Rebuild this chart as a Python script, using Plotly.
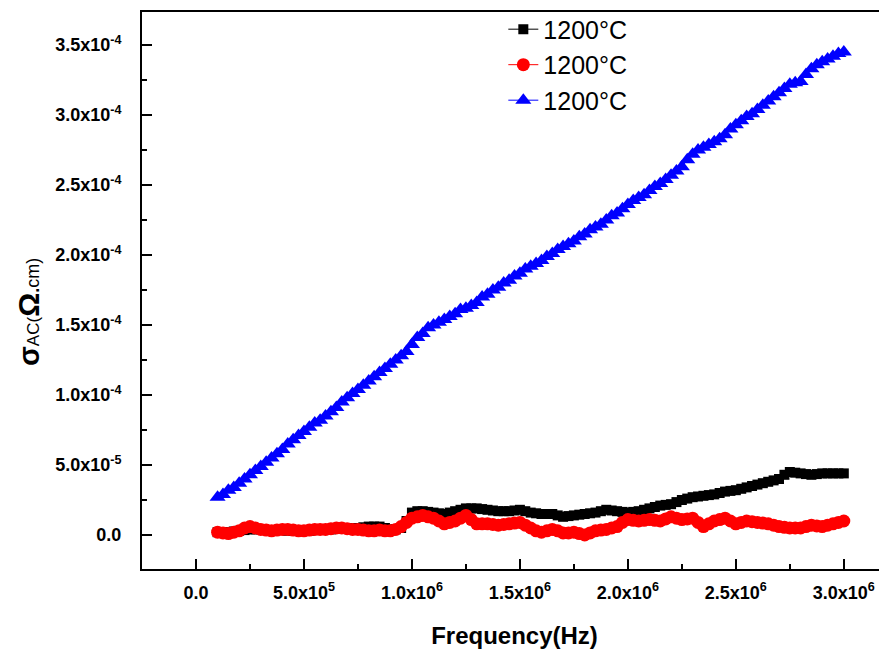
import plotly.graph_objects as go

# Frequency in units of 1e5 Hz (rows of 8 points)
freq_e5 = [1.0, 1.25, 1.5, 1.75, 2.0, 2.25, 2.5, 2.75,
           3.0, 3.25, 3.5, 3.75, 4.0, 4.25, 4.5, 4.75,
           5.0, 5.25, 5.5, 5.75, 6.0, 6.25, 6.5, 6.75,
           7.0, 7.25, 7.5, 7.75, 8.0, 8.25, 8.5, 8.75,
           9.0, 9.25, 9.5, 9.75, 10.0, 10.25, 10.5, 10.75,
           11.0, 11.25, 11.5, 11.75, 12.0, 12.25, 12.5, 12.75,
           13.0, 13.25, 13.5, 13.75, 14.0, 14.25, 14.5, 14.75,
           15.0, 15.25, 15.5, 15.75, 16.0, 16.25, 16.5, 16.75,
           17.0, 17.25, 17.5, 17.75, 18.0, 18.25, 18.5, 18.75,
           19.0, 19.25, 19.5, 19.75, 20.0, 20.25, 20.5, 20.75,
           21.0, 21.25, 21.5, 21.75, 22.0, 22.25, 22.5, 22.75,
           23.0, 23.25, 23.5, 23.75, 24.0, 24.25, 24.5, 24.75,
           25.0, 25.25, 25.5, 25.75, 26.0, 26.25, 26.5, 26.75,
           27.0, 27.25, 27.5, 27.75, 28.0, 28.25, 28.5, 28.75,
           29.0, 29.25, 29.5, 29.75, 30.0]

# black series, units of 1e-5
black_e5 = [0.2, 0.2, 0.2, 0.25, 0.3, 0.35, 0.4, 0.4,
            0.4, 0.35, 0.35, 0.35, 0.35, 0.3, 0.3, 0.3,
            0.3, 0.3, 0.35, 0.4, 0.4, 0.4, 0.45, 0.5,
            0.5, 0.5, 0.5, 0.55, 0.6, 0.6, 0.6, 0.5,
            0.4, 0.4, 0.5, 1.0, 1.6, 1.7, 1.7, 1.65,
            1.6, 1.55, 1.5, 1.6, 1.7, 1.8, 1.9, 1.9,
            1.9, 1.85, 1.8, 1.75, 1.7, 1.7, 1.7, 1.75,
            1.8, 1.7, 1.6, 1.55, 1.5, 1.5, 1.5, 1.4,
            1.3, 1.35, 1.4, 1.45, 1.5, 1.55, 1.6, 1.7,
            1.8, 1.75, 1.7, 1.65, 1.6, 1.65, 1.7, 1.8,
            1.9, 2.0, 2.1, 2.15, 2.2, 2.35, 2.5, 2.6,
            2.7, 2.75, 2.8, 2.85, 2.9, 3.0, 3.1, 3.15,
            3.2, 3.3, 3.4, 3.5, 3.6, 3.7, 3.8, 3.9,
            4.0, 4.3, 4.5, 4.45, 4.4, 4.35, 4.3, 4.35,
            4.4, 4.4, 4.4, 4.4, 4.4]

# red series, units of 1e-5
red_e5 = [0.2, 0.15, 0.1, 0.2, 0.3, 0.5, 0.6, 0.5,
          0.4, 0.35, 0.3, 0.35, 0.4, 0.4, 0.35, 0.3,
          0.3, 0.35, 0.4, 0.4, 0.4, 0.45, 0.5, 0.5,
          0.45, 0.4, 0.4, 0.35, 0.3, 0.3, 0.35, 0.3,
          0.3, 0.4, 0.6, 0.9, 1.2, 1.3, 1.4, 1.3,
          1.2, 1.0, 0.8, 0.9, 1.0, 1.2, 1.4, 1.1,
          0.8, 0.8, 0.8, 0.75, 0.7, 0.75, 0.8, 0.85,
          0.9, 0.7, 0.5, 0.3, 0.2, 0.3, 0.4, 0.3,
          0.15, 0.15, 0.2, 0.1, 0.0, 0.15, 0.3, 0.35,
          0.4, 0.5, 0.6, 0.9, 1.1, 1.05, 1.0, 1.05,
          1.1, 1.05, 1.0, 1.15, 1.3, 1.2, 1.1, 1.15,
          1.2, 0.9, 0.6, 0.8, 1.0, 1.1, 1.2, 1.0,
          0.8, 0.9, 1.0, 0.95, 0.9, 0.85, 0.8, 0.7,
          0.6, 0.55, 0.5, 0.5, 0.5, 0.6, 0.7, 0.65,
          0.6, 0.7, 0.8, 0.9, 1.0]

# blue series, units of 1e-4
blue_e4 = [0.27, 0.29, 0.32, 0.34, 0.37, 0.40, 0.43, 0.46,
           0.49, 0.52, 0.55, 0.58, 0.61, 0.65, 0.68, 0.71,
           0.74, 0.77, 0.80, 0.82, 0.85, 0.88, 0.91, 0.95,
           0.98, 1.01, 1.04, 1.07, 1.10, 1.13, 1.16, 1.19,
           1.22, 1.25, 1.28, 1.31, 1.36, 1.41, 1.44, 1.48,
           1.50, 1.52, 1.54, 1.56, 1.58, 1.61, 1.62, 1.64,
           1.66, 1.70, 1.72, 1.75, 1.77, 1.80, 1.82, 1.85,
           1.87, 1.90, 1.92, 1.94, 1.96, 1.99, 2.01, 2.04,
           2.06, 2.08, 2.10, 2.13, 2.15, 2.18, 2.20, 2.22,
           2.25, 2.28, 2.30, 2.33, 2.36, 2.39, 2.41, 2.43,
           2.46, 2.49, 2.51, 2.54, 2.57, 2.60, 2.63, 2.68,
           2.72, 2.75, 2.77, 2.79, 2.81, 2.83, 2.86, 2.90,
           2.93, 2.96, 2.99, 3.01, 3.04, 3.07, 3.10, 3.13,
           3.16, 3.19, 3.22, 3.23, 3.24, 3.29, 3.33, 3.36,
           3.38, 3.40, 3.42, 3.44, 3.45]

series_names = ["1200°C", "1200°C", "1200°C"]

x_tickvals = [0, 5e5, 1e6, 1.5e6, 2e6, 2.5e6, 3e6]
x_ticktext = ["0.0", "5.0x10<sup>5</sup>", "1.0x10<sup>6</sup>", "1.5x10<sup>6</sup>",
              "2.0x10<sup>6</sup>", "2.5x10<sup>6</sup>", "3.0x10<sup>6</sup>"]
y_tickvals = [0, 5e-5, 1e-4, 1.5e-4, 2e-4, 2.5e-4, 3e-4, 3.5e-4]
y_ticktext = ["0.0", "5.0x10<sup>-5</sup>", "1.0x10<sup>-4</sup>", "1.5x10<sup>-4</sup>",
              "2.0x10<sup>-4</sup>", "2.5x10<sup>-4</sup>", "3.0x10<sup>-4</sup>", "3.5x10<sup>-4</sup>"]

freq = [f * 1e5 for f in freq_e5]
black = [v * 1e-5 for v in black_e5]
red = [v * 1e-5 for v in red_e5]
blue = [v * 1e-4 for v in blue_e4]

fig = go.Figure()
fig.add_trace(go.Scatter(x=freq, y=black, mode="lines+markers", name=series_names[0],
                         line=dict(color="black", width=1),
                         marker=dict(symbol="square", size=10, color="black")))
fig.add_trace(go.Scatter(x=freq, y=red, mode="lines+markers", name=series_names[1],
                         line=dict(color="red", width=1),
                         marker=dict(symbol="circle", size=13, color="red")))
fig.add_trace(go.Scatter(x=freq, y=blue, mode="lines+markers", name=series_names[2],
                         line=dict(color="blue", width=1),
                         marker=dict(symbol="triangle-up", size=14, color="blue")))

tickfont = dict(family="Liberation Sans", size=18, color="black", weight="bold")

# page body adds an 8px offset; figure is sized/margined to compensate
L, T, B = 134, 4, 81
W, H = 879, 642
PW, PH = W - L, H - T - B

fig.update_layout(
    width=W, height=H,
    margin=dict(l=L, r=0, t=T, b=B, autoexpand=False),
    plot_bgcolor="white", paper_bgcolor="white",
    showlegend=True,
    legend=dict(x=0.485, y=1.01, xanchor="left", yanchor="top",
                font=dict(family="Liberation Sans", size=25, color="black"),
                bgcolor="rgba(0,0,0,0)", tracegroupgap=0),
    annotations=[
        dict(xref="paper", yref="paper", x=(20 - L) / PW, y=(H - B - 304) / PH,
             xanchor="center", yanchor="middle", textangle=-90, showarrow=False,
             text="<span style='font-size:29px'><b>σ</b></span><span style='font-size:17px'>AC</span>"
                  "<span style='font-size:17px'>(</span><span style='font-size:30px'><b>Ω</b></span>"
                  "<span style='font-size:18px'><b>.</b>cm)</span>",
             font=dict(family="Liberation Sans", color="black")),
    ],
)

fig.update_xaxes(
    range=[-2.5e5, 3.2e6], tickvals=x_tickvals, ticktext=x_ticktext,
    ticks="inside", ticklen=10, tickwidth=2, tickcolor="black",
    minor=dict(ticks="inside", ticklen=5, tickwidth=2, tickcolor="black", dtick=2.5e5, tick0=0),
    showline=True, linewidth=2, linecolor="black", mirror=True, automargin=False,
    showgrid=False, zeroline=False, tickfont=tickfont, ticklabelstandoff=6,
    title=dict(text="Frequency(Hz)", font=dict(family="Liberation Sans", size=24, color="black", weight="bold"),
               standoff=26),
)
fig.update_yaxes(
    range=[-2.43e-5, 3.736e-4], tickvals=y_tickvals, ticktext=y_ticktext,
    ticks="inside", ticklen=10, tickwidth=2, tickcolor="black",
    minor=dict(ticks="inside", ticklen=5, tickwidth=2, tickcolor="black", dtick=2.5e-5, tick0=0),
    showline=True, linewidth=2, linecolor="black", mirror=False, automargin=False,
    showgrid=False, zeroline=False, tickfont=tickfont, ticklabelstandoff=15,
)

fig.write_html("out.html")
